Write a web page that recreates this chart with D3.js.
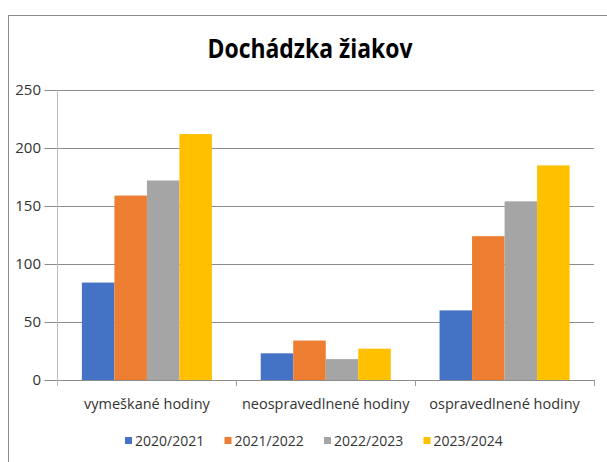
<!DOCTYPE html>
<html>
<head>
<meta charset="utf-8">
<script src="https://cdn.jsdelivr.net/npm/d3@7"></script>
<style>
    body { margin: 0; background: #fff; }
    svg text { font-family: "Open Sans", sans-serif; }
</style>
</head>
<body>
<svg id="chart" width="607" height="462"></svg>
<script>
// chart data
const title = 'Dochádzka žiakov';
const categories = ['vymeškané hodiny', 'neospravedlnené hodiny', 'ospravedlnené hodiny'];
const series = ['2020/2021', '2021/2022', '2022/2023', '2023/2024'];
const values = [
    [84, 159, 172, 212],
    [23, 34, 18, 27],
    [60, 124, 154, 185]
];
const yTicks = [0, 50, 100, 150, 200, 250];
const colors = ['#4472C4', '#ED7D31', '#A5A5A5', '#FFC000'];

const svg = d3.select('#chart');

// outer chart frame (right and bottom edges fall outside the picture)
svg.append('rect')
    .attr('x', 8.5).attr('y', 15.5)
    .attr('width', 640).attr('height', 480)
    .attr('fill', '#fff')
    .attr('stroke', '#8a8a8a');

svg.append('text')
    .attr('x', 310).attr('y', 58)
    .attr('text-anchor', 'middle')
    .attr('font-size', 27)
    .attr('font-weight', 'bold')
    .attr('fill', '#000')
    .attr('textLength', 205)
    .attr('lengthAdjust', 'spacingAndGlyphs')
    .text(title);

const plotL = 57.5, plotR = 594, plotT = 90, plotB = 380;

const y = d3.scaleLinear().domain([0, 250]).range([plotB, plotT]);
const x0 = d3.scaleBand().domain(categories).range([plotL, plotR]);
const x1 = d3.scaleBand().domain(series).range([0, x0.bandwidth()]).paddingOuter(0.75);

// gridlines with outside tick marks
svg.append('g')
    .selectAll('line')
    .data(yTicks)
    .join('line')
    .attr('x1', plotL - 13).attr('x2', plotR)
    .attr('y1', d => Math.round(y(d)) + 0.5)
    .attr('y2', d => Math.round(y(d)) + 0.5)
    .attr('stroke', '#8c8c8c');

// vertical axis line
svg.append('line')
    .attr('x1', plotL).attr('x2', plotL)
    .attr('y1', plotT).attr('y2', plotB + 6)
    .attr('stroke', '#bcbcbc');

// category ticks
svg.append('g')
    .selectAll('line')
    .data(categories.slice(1).map(c => x0(c)).concat([plotR]))
    .join('line')
    .attr('x1', d => Math.round(d) + 0.5).attr('x2', d => Math.round(d) + 0.5)
    .attr('y1', plotB).attr('y2', plotB + 6)
    .attr('stroke', '#9a9a9a');

svg.append('g')
    .selectAll('text')
    .data(yTicks)
    .join('text')
    .attr('x', 41)
    .attr('y', d => y(d) + 5)
    .attr('text-anchor', 'end')
    .attr('font-size', 15)
    .attr('fill', '#333')
    .text(d => d);

// bars
const groups = svg.append('g')
    .selectAll('g')
    .data(categories)
    .join('g')
    .attr('transform', d => `translate(${x0(d)},0)`);

groups.selectAll('rect')
    .data((d, i) => series.map((s, j) => ({ s: s, v: values[i][j], c: colors[j] })))
    .join('rect')
    .attr('x', d => x1(d.s))
    .attr('width', x1.bandwidth())
    .attr('y', d => y(d.v))
    .attr('height', d => y(0) - y(d.v))
    .attr('fill', d => d.c);

svg.append('g')
    .selectAll('text')
    .data(categories)
    .join('text')
    .attr('x', d => x0(d) + x0.bandwidth() / 2)
    .attr('y', 409)
    .attr('text-anchor', 'middle')
    .attr('font-size', 14.5)
    .attr('fill', '#333')
    .text(d => d);

// legend
const legend = svg.append('g')
    .selectAll('g')
    .data(series)
    .join('g')
    .attr('transform', (d, i) => `translate(${125 + i * 99.5},0)`);

legend.append('rect')
    .attr('x', 0).attr('y', 437)
    .attr('width', 7).attr('height', 7)
    .attr('fill', (d, i) => colors[i]);

legend.append('text')
    .attr('x', 10).attr('y', 446)
    .attr('font-size', 14)
    .attr('fill', '#333')
    .text(d => d);
</script>
</body>
</html>
